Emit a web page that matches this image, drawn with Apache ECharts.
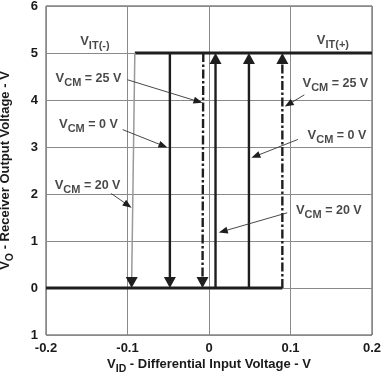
<!DOCTYPE html>
<html><head><meta charset="utf-8">
<script src="https://cdn.jsdelivr.net/npm/echarts@6/dist/echarts.min.js"></script>
<style>html,body{margin:0;padding:0;background:#fff}#c{width:390px;height:378px}</style>
</head><body><div id="c"></div>
<script>
// ---- data ----
const xMin = -0.2, xMax = 0.2, xInterval = 0.1;
const yMin = -1, yMax = 6, yInterval = 1;
const yTickLabels = ['1', '0', '1', '2', '3', '4', '5', '6']; // values -1..6 as printed
const highLevel = 5, lowLevel = 0;
// output switching traces: [x at high level, x at low level]
const fallingTraces = [[-0.091, -0.095], [-0.048, -0.048], [-0.007, -0.008]]; // VCM = 20 V, 0 V, 25 V
const fallingKinds = ['grey', 'solid', 'dashed'];
const risingTraces = [[0.008, 0.008], [0.049, 0.049], [0.090, 0.090]];        // VCM = 20 V, 0 V, 25 V
const risingKinds = ['solid', 'solid', 'dashed'];
const highLine = [[-0.091, highLevel], [0.2, highLevel]];
const lowLine = [[-0.2, lowLevel], [0.090, lowLevel]];
// annotation texts: [x, y, main, subscript, rest]
const textLabels = [
  [-0.140, 5.24, 'V', 'IT(-)', ''],
  [0.152, 5.26, 'V', 'IT(+)', ''],
  [-0.148, 4.45, 'V', 'CM', ' = 25 V'],
  [-0.148, 3.47, 'V', 'CM', ' = 0 V'],
  [-0.149, 2.18, 'V', 'CM', ' = 20 V'],
  [0.155, 4.35, 'V', 'CM', ' = 25 V'],
  [0.157, 3.24, 'V', 'CM', ' = 0 V'],
  [0.147, 1.64, 'V', 'CM', ' = 20 V']
];
// leader arrows: [x1, y1, x2(tip), y2(tip)]
const pointers = [
  [-0.100, 4.43, -0.008, 3.94],
  [-0.106, 3.37, -0.051, 2.99],
  [-0.120, 2.01, -0.095, 1.71],
  [0.117, 4.11, 0.093, 3.86],
  [0.109, 3.16, 0.052, 2.77],
  [0.096, 1.60, 0.012, 1.18]
];

// ---- build ----
const FONT = 'Liberation Sans, Arial, sans-serif';
const TXT = '#1a1a1a';
function arrowShape(api, p1, p2, len, hw, lineStyle, headColor) {
  const a = api.coord(p1), b = api.coord(p2);
  const dx = b[0] - a[0], dy = b[1] - a[1];
  const d = Math.sqrt(dx * dx + dy * dy) || 1;
  const ux = dx / d, uy = dy / d;
  const bx = b[0] - ux * len, by = b[1] - uy * len;
  return {
    type: 'group', children: [
      { type: 'line', shape: { x1: a[0], y1: a[1], x2: bx + ux * 1, y2: by + uy * 1 }, style: lineStyle },
      { type: 'polygon', shape: { points: [[b[0], b[1]], [bx - uy * hw, by + ux * hw], [bx + uy * hw, by - ux * hw]] },
        style: { fill: headColor } }
    ]
  };
}
const kindStyle = {
  grey: { stroke: '#9a9a9a', lineWidth: 1.5 },
  solid: { stroke: '#1e1e1e', lineWidth: 2.4 },
  dashed: { stroke: '#1e1e1e', lineWidth: 2.4, lineDash: [9, 2.5, 2.5, 2.5] }
};
const traceData = [];
fallingTraces.forEach((t, i) => traceData.push({ value: [t[0], highLevel, t[1], lowLevel], kind: fallingKinds[i] }));
risingTraces.forEach((t, i) => traceData.push({ value: [t[1], lowLevel, t[0], highLevel], kind: risingKinds[i] }));

const rich = {
  v: { fontFamily: FONT, fontWeight: 'bold', fontSize: 13, color: TXT, lineHeight: 15 },
  s: { fontFamily: FONT, fontWeight: 'bold', fontSize: 11, color: TXT, lineHeight: 11, padding: [8, 0, 0, 0] },
  n: { fontFamily: FONT, fontWeight: 'bold', fontSize: 12.5, color: TXT, lineHeight: 15 }
};
const richAxis = {
  v: { fontFamily: FONT, fontWeight: 'bold', fontSize: 13, color: TXT, lineHeight: 15 },
  s: { fontFamily: FONT, fontWeight: 'bold', fontSize: 10.5, color: TXT, lineHeight: 10, padding: [9, 0, 0, 0] },
  n: { fontFamily: FONT, fontWeight: 'bold', fontSize: 13, color: TXT, lineHeight: 15 }
};

const chart = echarts.init(document.getElementById('c'), null, { renderer: 'canvas' });
chart.setOption({
  animation: false,
  backgroundColor: '#fff',
  grid: { left: 46, right: 18, top: 6, bottom: 43, show: true, borderColor: '#444', borderWidth: 1,
    containLabel: false, outerBoundsMode: 'none' },
  xAxis: {
    type: 'value', min: xMin, max: xMax, interval: xInterval,
    axisLine: { show: false }, axisTick: { show: false },
    splitLine: { lineStyle: { color: '#8a8a8a', width: 1 } },
    axisLabel: { fontFamily: FONT, fontWeight: 'bold', fontSize: 13, color: TXT, margin: 7,
      formatter: v => (Math.abs(v) < 1e-9 ? '0' : v.toFixed(1)) },
    name: '{v|V}{s|ID}{n| - Differential Input Voltage - V}', nameLocation: 'middle', nameGap: 22,
    nameMoveOverlap: false,
    nameTextStyle: { rich: richAxis }
  },
  yAxis: {
    type: 'value', min: yMin, max: yMax, interval: yInterval,
    axisLine: { show: false }, axisTick: { show: false },
    splitLine: { lineStyle: { color: '#8a8a8a', width: 1 } },
    axisLabel: { fontFamily: FONT, fontWeight: 'bold', fontSize: 13, color: TXT, margin: 8,
      formatter: v => yTickLabels[Math.round(v - yMin)] },
    name: '{v|V}{s|O}{n| - Receiver Output Voltage - V}', nameLocation: 'middle', nameGap: 33, nameRotate: 90,
    nameMoveOverlap: false,
    nameTextStyle: { rich: richAxis }
  },
  series: [
    { type: 'line', data: highLine, symbol: 'none', lineStyle: { color: '#1e1e1e', width: 2.8 }, z: 3 },
    { type: 'line', data: lowLine, symbol: 'none', lineStyle: { color: '#1e1e1e', width: 2.8 }, z: 3 },
    {
      type: 'custom', data: traceData, z: 4,
      renderItem: (params, api) => {
        const kind = traceData[params.dataIndex].kind;
        return arrowShape(api, [api.value(0), api.value(1)], [api.value(2), api.value(3)], 11, 6,
          kindStyle[kind], '#1e1e1e');
      }
    },
    {
      type: 'custom', data: pointers, z: 5,
      renderItem: (params, api) => arrowShape(api, [api.value(0), api.value(1)], [api.value(2), api.value(3)], 9, 3.5,
        { stroke: '#333', lineWidth: 0.9 }, '#1e1e1e')
    },
    {
      type: 'scatter', symbolSize: 0, z: 6,
      data: textLabels.map(t => ({ value: [t[0], t[1]], t })),
      label: {
        show: true, position: 'inside', align: 'center', verticalAlign: 'middle',
        formatter: p => '{v|' + p.data.t[2] + '}{s|' + p.data.t[3] + '}' + (p.data.t[4] ? '{n|' + p.data.t[4] + '}' : ''),
        rich: rich
      }
    }
  ]
});
</script></body></html>
